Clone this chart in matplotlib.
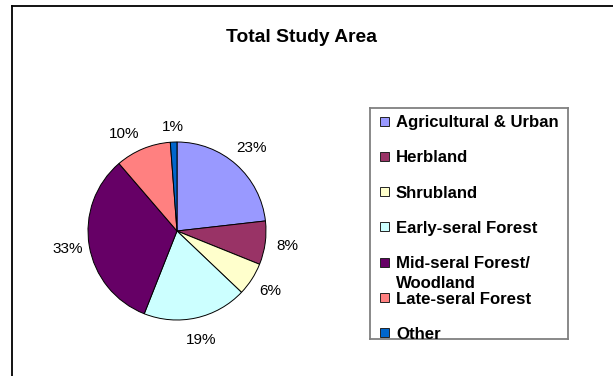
import matplotlib
matplotlib.use("Agg")
import matplotlib.pyplot as plt
from matplotlib.patches import Rectangle
from matplotlib.lines import Line2D

plt.rcParams['font.family'] = ['Liberation Sans', 'DejaVu Sans']

# data (percent of total study area)
categories = ["Agricultural & Urban", "Herbland", "Shrubland", "Early-seral Forest",
              "Mid-seral Forest/\nWoodland", "Late-seral Forest", "Other"]
shares = [23.2, 7.9, 6.0, 18.9, 32.7, 10.1, 1.2]
colors = ["#9999FF", "#993366", "#FFFFCC", "#CCFFFF", "#660066", "#FF8080", "#0066CC"]

W, H = 613, 376
fig = plt.figure(figsize=(W / 100, H / 100), dpi=100)

# outer chart border (only left and top are visible in the crop)
fig.add_artist(Line2D([12 / W, 12 / W], [0, 1 - 6 / H], color="black", lw=1.3))
fig.add_artist(Line2D([12 / W, 1], [1 - 6 / H, 1 - 6 / H], color="black", lw=1.3))

# title
fig.text(301 / W, 1 - 42 / H, "Total Study Area", ha="center", va="baseline",
         fontsize=13.9, fontweight="bold")

# pie
cx, cy, r = 177, 231, 89
ax = fig.add_axes([(cx - r) / W, (H - cy - r) / H, 2 * r / W, 2 * r / H])
wedges, texts, autotexts = ax.pie(shares, colors=colors, startangle=90, counterclock=False,
                                  autopct="%.0f%%", pctdistance=1.25,
                                  wedgeprops=dict(edgecolor="black", linewidth=0.7),
                                  textprops=dict(fontsize=11))
ax.set_xlim(-1, 1)
ax.set_ylim(-1, 1)
ax.set_aspect("auto")

# Excel nudged the two crowded labels at the top (offsets in px)
nudges = {5: (-10, -6), 6: (0, -7)}
for i, (dx, dy) in nudges.items():
    x, y = autotexts[i].get_position()
    autotexts[i].set_position((x + dx / r, y + dy / r))

# legend drawn by hand, in pixel coordinates
lx0, lx1, ly0, ly1 = 370, 568, 108, 339
lax = fig.add_axes([lx0 / W, (H - ly1) / H, (lx1 - lx0) / W, (ly1 - ly0) / H])
lax.set_xlim(lx0, lx1)
lax.set_ylim(ly1, ly0)
lax.set_xticks([])
lax.set_yticks([])
for s in lax.spines.values():
    s.set_color("#808080")
    s.set_linewidth(1.3)

row0, step = 121, 35.3
for i, (lab, c) in enumerate(zip(categories, colors)):
    y = row0 + i * step
    lax.add_patch(Rectangle((380.5, y - 4.5), 9, 9, facecolor=c, edgecolor="#222222", lw=0.7))
    for k, line in enumerate(lab.split("\n")):
        t = lax.text(396, y + 6 + k * 20, line, ha="left", va="baseline",
                     fontsize=12.1, fontweight="bold")
        t.set_clip_on(True)

fig.savefig("out.png", dpi=100, facecolor="white")
